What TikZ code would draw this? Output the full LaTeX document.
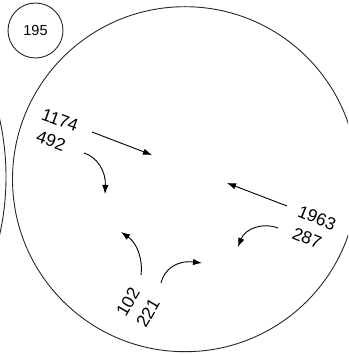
\documentclass[tikz,border=0pt]{standalone}
\usepackage{fontspec}
\setmainfont{Liberation Sans}
\usetikzlibrary{arrows.meta}
\begin{document}
\begin{tikzpicture}[x=1pt,y=-1pt,
  ring/.style={draw=black!85, line width=0.9pt},
  numlabel/.style={inner sep=0pt, font=\fontsize{17.5}{21}\selectfont},
  flow/.style={draw=black, line width=0.9pt, -{Latex[length=9pt,width=6.5pt]}}]
  \useasboundingbox (0,0) rectangle (348,355);
  \clip (0,0) rectangle (348,355);

  % neighbouring circles
  \node[ring, circle, minimum size=55pt, inner sep=0pt, font=\fontsize{14.5}{16}\selectfont] (c195) at (35.5,30.5) {195};
  \draw[ring] (-259,177) circle[radius=265];
  \draw[ring] (185,179.2) circle[radius=172.5];

  % labels, one node per line
  \node[numlabel, rotate=-20] (l1174) at (60,120) {1174};
  \node[numlabel, rotate=-20] (l492)  at (51,141) {492};
  \node[numlabel, rotate=-22] (l1963) at (317,218) {1963};
  \node[numlabel, rotate=-22] (l287)  at (307,238) {287};
  \node[numlabel, rotate=60]  (l102)  at (128,302) {102};
  \node[numlabel, rotate=60]  (l221)  at (148,313) {221};

  % arrow end points
  \coordinate (a1s) at (92,132);  \coordinate (a1e) at (152,155);
  \coordinate (a2s) at (84,153);  \coordinate (a2e) at (105,194);
  \coordinate (a3s) at (287,206); \coordinate (a3e) at (227,183);
  \coordinate (a4s) at (278,228); \coordinate (a4e) at (238,247);
  \coordinate (a5s) at (141,275); \coordinate (a5e) at (121,232);
  \coordinate (a6s) at (161,283); \coordinate (a6e) at (202,263);

  % arrows
  \draw[flow] (a1s) -- (a1e);
  \draw[flow] (a2s) .. controls (97,157) and (106,171) .. (a2e);
  \draw[flow] (a3s) -- (a3e);
  \draw[flow] (a4s) .. controls (262,222) and (245,229) .. (a4e);
  \draw[flow] (a5s) .. controls (143,259) and (137,243) .. (a5e);
  \draw[flow] (a6s) .. controls (164,270) and (176,260) .. (a6e);
\end{tikzpicture}
\end{document}
